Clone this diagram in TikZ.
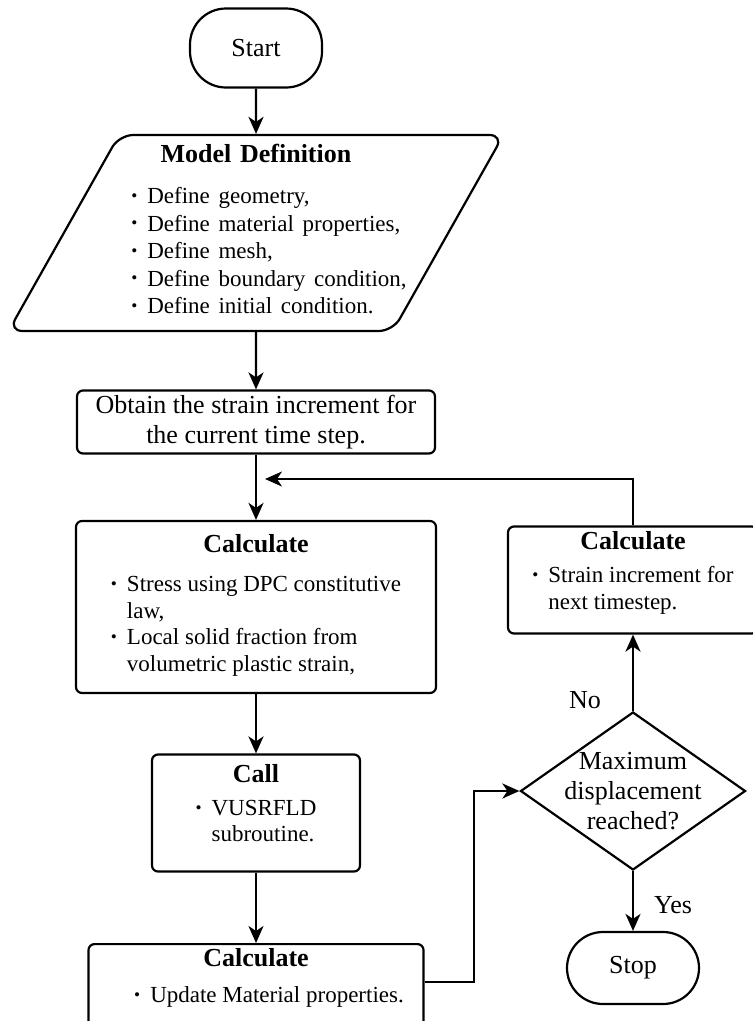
\documentclass[tikz,border=0pt]{standalone}
\usepackage{fontspec}
\setmainfont{Liberation Serif}
\usepackage{graphicx}
\usetikzlibrary{shapes.geometric,arrows.meta}

\newcommand{\bul}{\raisebox{0.2ex}{\scalebox{0.75}{\textbullet}}}
\newcommand{\bigfont}{\fontsize{26}{30}\selectfont}
\newcommand{\listfont}{\fontsize{23}{26.5}\selectfont}

\tikzset{
  flow/.style={line width=2.2pt, -{Stealth[length=17pt,width=15pt,inset=5pt]}},
  terminal/.style={draw, line width=2.2pt, rounded corners=36pt, minimum width=132pt, font=\bigfont},
  process/.style={draw, line width=2.2pt, rounded corners=6pt, align=center, font=\bigfont, inner xsep=0pt, inner ysep=2pt},
  decision/.style={draw, line width=2.2pt, diamond, aspect=1.42, minimum width=225pt, minimum height=158pt, inner sep=0pt},
  iodata/.style={draw, line width=2.2pt, trapezium, trapezium left angle=58, trapezium right angle=122, trapezium stretches body=true, rounded corners=14pt, minimum width=495pt, minimum height=196pt, text width=200pt, align=center, font=\bigfont, inner sep=0pt},
}

\begin{document}
\begin{tikzpicture}[x=1pt, y=-1pt]
\clip (0,0) rectangle (753,1021);
% start
  \node[terminal, minimum height=79pt] (start) at (256,48) {Start};
% model definition
  \node[iodata] (model) at (256,233)%
{%
  \textbf{Model Definition} \\[21pt]
  \listfont
  \makebox[\linewidth]{\hspace*{26pt}\begin{tabular}{@{}l@{\hspace{10pt}}l@{}}
    \bul & Define geometry, \\[1pt]
    \bul & Define material properties, \\[1pt]
    \bul & Define mesh, \\[1pt]
    \bul & Define boundary condition, \\[1pt]
    \bul & Define initial condition.
  \end{tabular}}
};
% strain increment
  \node[process, minimum width=358pt, minimum height=63pt] (obtain) at (256,422)%
{%
  Obtain the strain increment for \\
  the current time step.
};
  \coordinate (merge) at (256,479);
% calculate stress
  \node[process, minimum width=360pt, minimum height=172pt] (calcstress) at (256,607)%
{%
  \textbf{Calculate} \\[19pt]
  \listfont
  \begin{tabular}{@{}l@{\hspace{10pt}}l@{}}
    \bul & Stress using DPC constitutive \\
         & law, \\
    \bul & Local solid fraction from \\
         & volumetric plastic strain,
  \end{tabular}
};
% call subroutine
  \node[process, minimum width=208pt, minimum height=117pt] (call) at (256,813)%
{%
  \textbf{Call} \\[13pt]
  \listfont
  \begin{tabular}{@{}l@{\hspace{10pt}}l@{}}
    \bul & VUSRFLD \\
         & subroutine. \\[12pt]
  \end{tabular}
};
% update material
  \node[process, minimum width=335pt, anchor=north, inner ysep=4pt, text depth=36pt] (update) at (256,943)%
{%
  \textbf{Calculate} \\[7pt]
  \listfont
  \hspace*{26pt}\begin{tabular}{@{}l@{\hspace{10pt}}l@{}}
    \bul & Update Material properties.
  \end{tabular}
};
% check
  \node[decision, label={[align=center, font=\bigfont]center:Maximum\\displacement\\reached?}] (maxdisp) at (633,791) {};
% next step
  \node[process, minimum width=250pt, minimum height=107pt] (nextstep) at (633,580)%
{%
  \textbf{Calculate} \\[13pt]
  \listfont
  \begin{tabular}{@{}l@{\hspace{10pt}}l@{}}
    \bul & Strain increment for \\
         & next timestep. \\[11pt]
  \end{tabular}
};
% stop
  \node[terminal, minimum height=72pt] (stop) at (633,968) {Stop};
  \node[font=\bigfont] (no) at (585,700) {No};
  \node[font=\bigfont] (yes) at (673,905) {Yes};
%%%%%%%%%%%%%%%%
\draw[flow] (start.south) -- (model.north);
\draw[flow] (model.south) -- (obtain.north);
\draw[flow] (obtain.south) -- (calcstress.north);
\draw[flow] (calcstress.south) -- (call.north);
\draw[flow] (call.south) -- (update.north);
\draw[flow] ([yshift=12pt]update.east) -- ++(49,0) |- (maxdisp.west);
\draw[flow] (maxdisp.north) -- (nextstep.south);
\draw[flow] (maxdisp.south) -- (stop.north);
\draw[flow] (nextstep.north) |- ([xshift=9pt]merge);
\end{tikzpicture}
\end{document}
